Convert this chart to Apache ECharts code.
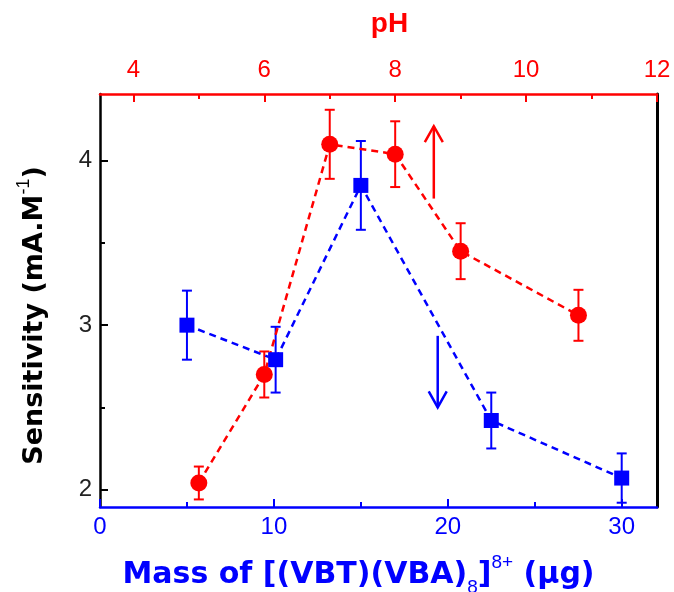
<!DOCTYPE html>
<html>
<head>
<meta charset="utf-8">
<script src="https://cdn.jsdelivr.net/npm/echarts@6/dist/echarts.min.js"></script>
<style>
  html, body { margin: 0; padding: 0; background: #fff; }
  #main { width: 674px; height: 592px; }
</style>
</head>
<body>
<div id="main"></div>
<script>
// mass series (bottom axis, blue squares)
const massValues = [5, 10.1, 15, 22.5, 30];
const massSens = [3.0, 2.79, 3.85, 2.42, 2.07];
const massErr = [0.21, 0.2, 0.27, 0.17, 0.15];
// pH series (top axis, red circles)
const phValues = [5, 6, 7, 8, 9, 10.8];
const phSens = [2.04, 2.70, 4.10, 4.04, 3.45, 3.06];
const phErr = [0.10, 0.14, 0.21, 0.20, 0.17, 0.155];
// tick labels
const massTicks = [0, 10, 20, 30];
const massMinor = [5, 15, 25];
const phTicks = [4, 6, 8, 10, 12];
const phMinor = [5, 7, 9, 11];
const sensTicks = [2, 3, 4];
const sensMinor = [2.5, 3.5];
// arrows [x, yFrom, yTo]
const phArrow = [[8.59, 3.77, 4.21]];
const massArrow = [[19.42, 2.935, 2.50]];

const BLUE = '#0000ff', RED = '#ff0000';
const FONT = 'Liberation Sans, Arial, sans-serif';
const TFONT = 'DejaVu Sans, sans-serif';

const chart = echarts.init(document.getElementById('main'));

function errorBars(color) {
    return function (params, api) {
        const x = api.value(0), y = api.value(1), e = api.value(2);
        const top = api.coord([x, y + e]);
        const bot = api.coord([x, y - e]);
        const w = 5;
        const style = { stroke: color, lineWidth: 2 };
        return {
            type: 'group',
            children: [
                { type: 'line', shape: { x1: top[0], y1: top[1], x2: bot[0], y2: bot[1] }, style: style },
                { type: 'line', shape: { x1: top[0] - w, y1: top[1], x2: top[0] + w, y2: top[1] }, style: style },
                { type: 'line', shape: { x1: bot[0] - w, y1: bot[1], x2: bot[0] + w, y2: bot[1] }, style: style }
            ]
        };
    };
}

function arrow(color) {
    return function (params, api) {
        const p0 = api.coord([api.value(0), api.value(1)]);
        const p1 = api.coord([api.value(0), api.value(2)]);
        const dir = p1[1] < p0[1] ? 1 : -1;
        const len = 16, hw = 9;
        const style = { stroke: color, lineWidth: 2.5, fill: null };
        return {
            type: 'group',
            children: [
                { type: 'line', shape: { x1: p0[0], y1: p0[1], x2: p1[0], y2: p1[1] }, style: style },
                { type: 'polyline', shape: { points: [[p1[0] - hw, p1[1] + dir * len], [p1[0], p1[1]], [p1[0] + hw, p1[1] + dir * len]] }, style: style }
            ]
        };
    };
}

const labelStyle = { fontFamily: FONT, fontSize: 24 };

chart.setOption({
    animation: false,
    grid: { left: 100, right: 17, top: 94, bottom: 85, outerBoundsMode: 'none' },
    xAxis: [
        {
            type: 'value', position: 'bottom', min: 0, max: 32.03,
            axisLine: { lineStyle: { color: BLUE, width: 2.5 } },
            axisTick: { inside: true, length: 8, customValues: massTicks, lineStyle: { color: BLUE, width: 2 } },
            axisLabel: Object.assign({ customValues: massTicks, color: BLUE, margin: 8 }, labelStyle),
            splitLine: { show: false },
            name: '{b|Mass of [(VBT)(VBA)}{sub|8}{b|]}{sup|8+}{b| (μg)}',
            nameLocation: 'middle', nameGap: 46,
            nameTextStyle: {
                padding: [0, 40, 0, 0],
                rich: {
                    b: { fontFamily: TFONT, fontSize: 30, fontWeight: 'bold', color: BLUE, lineHeight: 44 },
                    sub: { fontFamily: FONT, fontSize: 19, fontWeight: 'normal', color: BLUE, verticalAlign: 'bottom', lineHeight: 44 },
                    sup: { fontFamily: FONT, fontSize: 19, fontWeight: 'normal', color: BLUE, verticalAlign: 'top', lineHeight: 44 }
                }
            }
        },
        {
            type: 'value', position: 'top', min: 3.49, max: 12,
            axisLine: { lineStyle: { color: RED, width: 2.5 } },
            axisTick: { inside: true, length: 8, customValues: phTicks, lineStyle: { color: RED, width: 2 } },
            axisLabel: Object.assign({ customValues: phTicks, color: RED, margin: 12 }, labelStyle),
            splitLine: { show: false },
            name: 'pH', nameLocation: 'middle', nameGap: 56,
            nameTextStyle: { fontFamily: FONT, fontSize: 28, fontWeight: 'bold', color: RED, padding: [0, 0, 0, 22] }
        },
        {
            type: 'value', position: 'bottom', min: 0, max: 32.03,
            axisLine: { show: false },
            axisTick: { inside: true, length: 5, customValues: massMinor, lineStyle: { color: BLUE, width: 2 } },
            axisLabel: { show: false }, splitLine: { show: false }
        },
        {
            type: 'value', position: 'top', min: 3.49, max: 12,
            axisLine: { show: false },
            axisTick: { inside: true, length: 5, customValues: phMinor, lineStyle: { color: RED, width: 2 } },
            axisLabel: { show: false }, splitLine: { show: false }
        }
    ],
    yAxis: [
        {
            type: 'value', position: 'left', min: 1.894, max: 4.406,
            axisLine: { show: true, lineStyle: { color: '#000', width: 2.5 } },
            axisTick: { inside: true, length: 8, customValues: sensTicks, lineStyle: { color: '#000', width: 2 } },
            axisLabel: Object.assign({ customValues: sensTicks, color: '#222', margin: 8 }, labelStyle),
            splitLine: { show: false },
            name: '{b|Sensitivity (mA.M}{sup|-1}{b|)}',
            nameLocation: 'middle', nameGap: 45,
            nameTextStyle: {
                padding: [0, 30, 0, 0],
                rich: {
                    b: { fontFamily: TFONT, fontSize: 27, fontWeight: 'bold', color: '#000', lineHeight: 40 },
                    sup: { fontFamily: FONT, fontSize: 18, fontWeight: 'normal', color: '#000', verticalAlign: 'top', lineHeight: 40 }
                }
            }
        },
        {
            type: 'value', position: 'left', min: 1.894, max: 4.406,
            axisLine: { show: false },
            axisTick: { inside: true, length: 5, customValues: sensMinor, lineStyle: { color: '#000', width: 2 } },
            axisLabel: { show: false }, splitLine: { show: false }
        },
        {
            type: 'value', position: 'right', min: 1.894, max: 4.406,
            axisLine: { show: true, lineStyle: { color: '#000', width: 3 } },
            axisTick: { show: false }, axisLabel: { show: false }, splitLine: { show: false }
        }
    ],
    series: [
        {
            type: 'line', xAxisIndex: 0, yAxisIndex: 0,
            data: massValues.map((m, i) => [m, massSens[i]]),
            symbol: 'rect', symbolSize: 15,
            lineStyle: { color: BLUE, width: 2.5, type: [7, 5] },
            itemStyle: { color: BLUE }, z: 5
        },
        {
            type: 'custom', xAxisIndex: 0, yAxisIndex: 0,
            data: massValues.map((m, i) => [m, massSens[i], massErr[i]]),
            renderItem: errorBars(BLUE), z: 4
        },
        {
            type: 'line', xAxisIndex: 1, yAxisIndex: 0,
            data: phValues.map((p, i) => [p, phSens[i]]),
            symbol: 'circle', symbolSize: 17,
            lineStyle: { color: RED, width: 2.5, type: [7, 5] },
            itemStyle: { color: RED }, z: 5
        },
        {
            type: 'custom', xAxisIndex: 1, yAxisIndex: 0,
            data: phValues.map((p, i) => [p, phSens[i], phErr[i]]),
            renderItem: errorBars(RED), z: 4
        },
        {
            type: 'custom', xAxisIndex: 1, yAxisIndex: 0,
            data: phArrow, renderItem: arrow(RED), z: 6
        },
        {
            type: 'custom', xAxisIndex: 0, yAxisIndex: 0,
            data: massArrow, renderItem: arrow(BLUE), z: 6
        }
    ]
});
</script>
</body>
</html>
